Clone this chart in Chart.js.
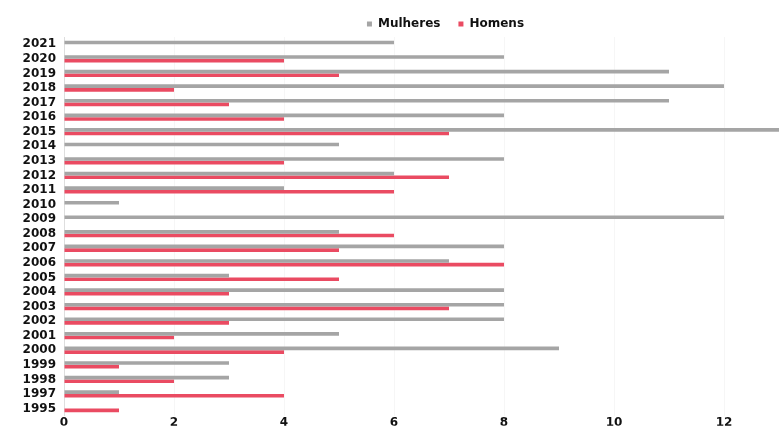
<!DOCTYPE html>
<html>
<head>
<meta charset="utf-8">
<script src="https://cdn.jsdelivr.net/npm/chart.js@4.4.1/dist/chart.umd.min.js"></script>
<style>
  html, body { margin: 0; padding: 0; background: #fff; }
  #wrap { width: 779px; height: 431px; position: relative; }
</style>
</head>
<body>
<div id="wrap"><canvas id="chart"></canvas></div>
<script>
const years = ["2021", "2020", "2019", "2018", "2017", "2016", "2015", "2014", "2013", "2012", "2011", "2010", "2009",
  "2008", "2007", "2006", "2005", "2004", "2003", "2002", "2001", "2000", "1999", "1998", "1997", "1995"];
const mulheres = [6, 8, 11, 12, 11, 8, 13, 5, 8, 6, 4, 1, 12, 5, 8, 7, 3, 8, 8, 8, 5, 9, 3, 3, 1, 0];
const homens = [0, 4, 5, 2, 3, 4, 7, 0, 4, 7, 6, 0, 0, 6, 5, 8, 5, 3, 7, 3, 2, 4, 1, 2, 4, 1];
const xTicks = [0, 2, 4, 6, 8, 10, 12];

const GREY = "#a5a5a5";
const RED = "#ea4b62";
const FONT = "'DejaVu Sans', sans-serif";

// legend sits a bit right of the plot's centre in the original
const legendNudge = {
  id: "legendNudge",
  afterLayout(chart) {
    chart.legend.left += 24;
    chart.legend.right += 24;
  }
};

new Chart(document.getElementById("chart"), {
  type: "bar",
  data: {
    labels: years,
    datasets: [
      { label: "Mulheres", data: mulheres, backgroundColor: GREY, borderWidth: 0 },
      { label: "Homens", data: homens, backgroundColor: RED, borderWidth: 0 }
    ]
  },
  plugins: [legendNudge],
  options: {
    indexAxis: "y",
    responsive: true,
    maintainAspectRatio: false,
    animation: false,
    datasets: { bar: { categoryPercentage: 0.5, barPercentage: 1.0 } },
    layout: { padding: 0 },
    plugins: {
      tooltip: { enabled: false },
      legend: {
        position: "top",
        fullSize: false,
        maxHeight: 37,
        labels: {
          boxWidth: 5,
          boxHeight: 5,
          padding: 18,
          color: "#111",
          font: { family: FONT, size: 12, weight: "bold" }
        }
      }
    },
    scales: {
      x: {
        min: 0,
        max: 13,
        afterBuildTicks: (s) => { s.ticks = xTicks.map((v) => ({ value: v })); },
        afterFit: (s) => { s.height = 10; },
        grid: { color: "rgba(0,0,0,0.035)", drawTicks: false },
        border: { display: false },
        ticks: { padding: 0, color: "#111", font: { family: FONT, size: 12, weight: "bold" } }
      },
      y: {
        afterFit: (s) => { s.width = 64; },
        grid: { display: false, drawTicks: false },
        border: { color: "#dedede" },
        ticks: { padding: 8, color: "#111", autoSkip: false, font: { family: FONT, size: 12, weight: "bold" } }
      }
    }
  }
});
</script>
</body>
</html>
